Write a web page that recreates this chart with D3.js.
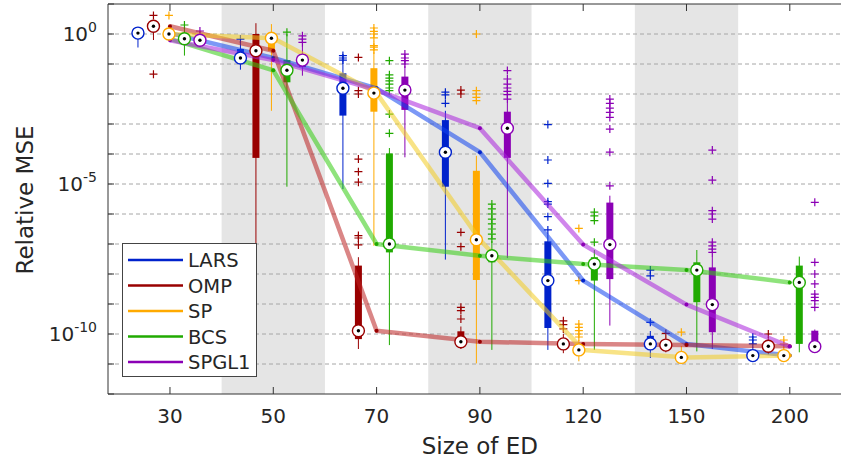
<!DOCTYPE html>
<html><head><meta charset="utf-8">
<script src="https://cdn.jsdelivr.net/npm/d3@7"></script>
<style>body{margin:0;background:#fff;} text{font-family:"DejaVu Sans",sans-serif;fill:#262626;}</style>
</head><body><svg id="c" width="841" height="464"></svg>
<script>
// Categories and series
const groups = ["30","50","70","90","120","150","200"];
const series = ["LARS","OMP","SP","BCS","SPGL1"];
const boxColors = ["#0022cc","#990000","#ffaa00","#20aa00","#8b00b5"];
const lineColors = ["#1144ee","#bb2222","#f2cc22","#33cc11","#aa22dd"];
// Box statistics, log10 of relative MSE: [whiskerLow, q1, median, q3, whiskerHigh] per group
const larsStats = [[-0.45,-0.05,0.03,0.08,0.12],[-1.19,-0.85,-0.80,-0.5,-0.25],[-5.17,-2.72,-1.81,-1.31,-0.94],[-7.52,-5.09,-3.94,-2.87,-2.56],[-10.53,-9.8,-8.22,-6.91,-6.67],[-10.8,-10.39,-10.33,-10.06,-9.9],[-10.85,-10.78,-10.72,-10.6,-10.45]];
const ompStats  = [[-0.2,0.18,0.26,0.33,0.44],[-7.0,-4.13,-0.56,0,0.36],[-10.5,-10.17,-9.89,-7.72,-7.44],[-10.5,-10.33,-10.26,-9.91,-9.75],[-10.64,-10.42,-10.33,-10.2,-10.0],[-10.61,-10.45,-10.37,-10.25,-10.1],[-10.68,-10.5,-10.41,-10.3,-10.1]];
const spStats   = [[-0.17,-0.05,0.0,0.1,0.28],[-2.56,-0.56,-0.14,-0.1,0.33],[-7.06,-2.59,-1.97,-1.14,-0.6],[-10.98,-8.2,-6.86,-4.56,-4.06],[-10.91,-10.6,-10.53,-10.45,-10.2],[-10.9,-10.83,-10.78,-10.7,-10.4],[-10.85,-10.78,-10.72,-10.65,-10.45]];
const bcsStats  = [[-0.72,-0.25,-0.16,-0.05,0.2],[-5.09,-1.61,-1.21,-0.87,0.0],[-10.37,-7.28,-7.0,-3.98,-3.8],[-10.53,-7.61,-7.39,-7.28,-6.9],[-10.53,-8.22,-7.67,-7.44,-7.2],[-10.58,-8.94,-7.87,-7.61,-7.2],[-10.61,-10.33,-8.28,-7.72,-7.42]];
const spgl1Stats= [[-0.44,-0.3,-0.21,-0.1,0.05],[-1.39,-1.1,-0.87,-0.67,-0.4],[-4.11,-2.53,-1.87,-1.42,-1.06],[-7.47,-4.13,-3.14,-2.59,-2.3],[-9.72,-8.17,-7.02,-5.62,-5.39],[-10.5,-9.94,-9.02,-7.78,-7.4],[-10.62,-10.53,-10.42,-9.89,-9.85]];
// Outliers (log10) per group
const larsOut = [[],[-0.17],[-0.72,-0.8,-0.87],[-1.94,-2.03,-2.31],[-3.02,-4.2,-4.98,-5.59,-5.67,-6.09,-6.53],[-9.61,-7.87,-8.06],[-10.1,-10.2,-10.33]];
const ompOut  = [[0.62,-1.34],[],[-6.72,-6.8,-7.03,-4.17,-4.59,-4.94,-1.89,-2.0,-0.78],[-9.11,-9.22,-9.5,-6.61,-7.09,-1.87,-2.0],[-9.56,-9.69,-9.83],[-9.98],[-10.0]];
const spOut   = [[0.62],[],[0.2,0.09,0.0,-0.13,-0.39,-0.44,-0.53],[-1.89,-2.0,-2.11,-2.22,0.0],[-9.67,-9.78,-9.89,-10.0,-10.1,-8.22,-6.48],[-9.94],[-10.2,-10.33]];
const bcsOut  = [[0.3],[0.06],[-0.89,-1.36,-1.47,-1.56,-1.67,-1.8,-1.89,-2.67,-3.31],[-5.67,-5.83,-6.0,-6.17,-6.33,-6.5,-6.67,-6.83],[-5.94,-6.06,-6.22,-6.94],[],[]];
const spgl1Out= [[0.1],[-0.06,-0.17,-0.28],[-0.67,-0.8,-0.89,-1.0],[-1.22,-1.5,-1.67,-1.8,-1.91,-2.02,-2.17],[-5.06,-3.94,-3.17,-2.17,-2.31,-2.47,-2.61,-2.78],[-6.94,-7.06,-7.17,-7.28,-5.89,-6.0,-6.17,-4.87,-3.87],[-5.61,-7.61,-8.0,-8.33,-8.67,-8.78,-8.89,-9.11]];
const yTickExp = [0,-5,-10];

const allStats = [larsStats, ompStats, spStats, bcsStats, spgl1Stats];
const allOut = [larsOut, ompOut, spOut, bcsOut, spgl1Out];
const P = e => Math.pow(10, e);

const svg = d3.select("#c");
const L = 108, R = 843, T = 4, B = 394;
const x = d3.scaleLinear().domain([-0.6, 6.515]).range([L, R]);
const y = d3.scaleLog().domain([1e-12, 10]).range([B, T]);
const step = x(1) - x(0);
const off = d3.scaleLinear().domain([0, series.length - 1]).range([-0.31, 0.29]);
const gpos = i => i - 0.008 * i; // box groups drift slightly left of ticks, as in the reference

// gray bands
svg.append("g").selectAll("rect").data(groups.map((g,i)=>i).filter(i=>i%2===1)).join("rect")
  .attr("x", i => x(i - 0.5)).attr("width", step).attr("y", T).attr("height", B - T).attr("fill", "#e5e5e5");

// grid
const decades = d3.range(0, -12, -1);
svg.append("g").selectAll("line").data(decades).join("line")
  .attr("x1", L).attr("x2", R).attr("y1", d => y(P(d))).attr("y2", d => y(P(d)))
  .attr("stroke", "#a6a6a6").attr("stroke-dasharray", "4,3").attr("stroke-width", 1);

// boxes
const gb = svg.append("g");
series.forEach((s, j) => {
  const col = boxColors[j];
  allStats[j].forEach((st, i) => {
    const cx = x(gpos(i) + off(j));
    gb.append("line").attr("x1", cx).attr("x2", cx).attr("y1", y(P(st[0]))).attr("y2", y(P(st[4])))
      .attr("stroke", col).attr("stroke-width", 1);
    gb.append("rect").attr("x", cx - 3.5).attr("width", 7).attr("y", y(P(st[3])))
      .attr("height", Math.max(1, y(P(st[1])) - y(P(st[3])))).attr("fill", col);
    allOut[j][i].forEach(o => {
      const oy = y(P(o));
      gb.append("path").attr("d", `M${cx-4},${oy}H${cx+4}M${cx},${oy-4}V${oy+4}`)
        .attr("stroke", col).attr("stroke-width", 1.2).attr("fill", "none");
    });
  });
});

// median lines
const line = d3.line().x((d, i) => x(i)).y(d => y(P(d)));
series.forEach((s, j) => {
  const meds = allStats[j].map(st => st[2]);
  svg.append("path").datum(meds).attr("d", line).attr("fill", "none")
    .attr("stroke", lineColors[j]).attr("stroke-opacity", 0.55).attr("stroke-width", 4.5)
    .attr("stroke-linejoin", "round");
  svg.append("g").selectAll("circle").data(meds).join("circle")
    .attr("cx", (d, i) => x(i)).attr("cy", d => y(P(d))).attr("r", 2).attr("fill", boxColors[j]);
});

// median markers
series.forEach((s, j) => {
  allStats[j].forEach((st, i) => {
    const cx = x(gpos(i) + off(j)), cy = y(P(st[2]));
    svg.append("circle").attr("cx", cx).attr("cy", cy).attr("r", 6).attr("fill", "#fff")
      .attr("stroke", boxColors[j]).attr("stroke-width", 1.4);
    svg.append("circle").attr("cx", cx).attr("cy", cy).attr("r", 1.7).attr("fill", "#000");
  });
});

// axes frame
const ax = svg.append("g").attr("stroke", "#333").attr("stroke-width", 1).attr("fill", "none");
ax.append("path").attr("d", `M${L},${T}V${B}H${R}M${L},${T}H${R}`);
groups.forEach((g, i) => {
  ax.append("path").attr("d", `M${x(i)},${B}v-7M${x(i)},${T}v7`);
});
d3.range(1, -13, -1).forEach(e => {
  ax.append("path").attr("d", `M${L},${y(P(e))}h6`);
});

// tick labels
svg.append("g").selectAll("text").data(groups).join("text")
  .attr("x", (d, i) => x(i)).attr("y", 423).attr("text-anchor", "middle")
  .attr("font-size", 20).text(d => d);
const yt = svg.append("g").selectAll("text").data(yTickExp).join("text")
  .attr("x", 97).attr("y", d => y(P(d)) + 7).attr("text-anchor", "end").attr("font-size", 20);
yt.append("tspan").text("10");
yt.append("tspan").attr("dy", -9).attr("font-size", 14).text(d => String(d));

// titles
svg.append("text").attr("x", x(3)).attr("y", 454).attr("text-anchor", "middle").attr("font-size", 23).text("Size of ED");
svg.append("text").attr("transform", "translate(33,200) rotate(-90)").attr("text-anchor", "middle")
  .attr("font-size", 23).text("Relative MSE");

// legend
const lg = svg.append("g");
lg.append("rect").attr("x", 122.5).attr("y", 243.5).attr("width", 134).attr("height", 133)
  .attr("fill", "#fff").attr("stroke", "#444").attr("stroke-width", 1);
series.forEach((s, j) => {
  const ly = 260 + j * 25.5;
  lg.append("line").attr("x1", 128).attr("x2", 183).attr("y1", ly).attr("y2", ly)
    .attr("stroke", boxColors[j]).attr("stroke-width", 2.5);
  lg.append("text").attr("x", 188).attr("y", ly + 7).attr("font-size", 19.5).text(s);
});
</script></body></html>
